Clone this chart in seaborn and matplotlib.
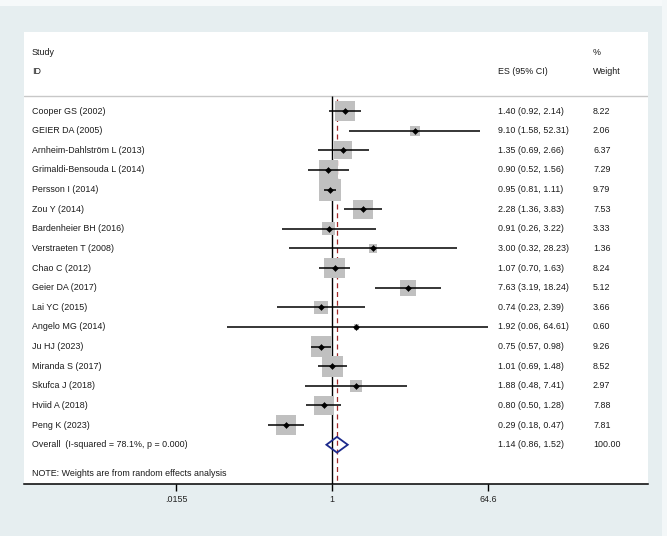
import numpy as np
import matplotlib
matplotlib.use("Agg")
import matplotlib.pyplot as plt
import matplotlib.transforms as mtransforms
from matplotlib.patches import Rectangle
import seaborn as sns

# study data
studies = ["Cooper GS (2002)", "GEIER DA (2005)", "Arnheim-Dahlström L (2013)",
           "Grimaldi-Bensouda L (2014)", "Persson I (2014)", "Zou Y (2014)",
           "Bardenheier BH (2016)", "Verstraeten T (2008)", "Chao C (2012)",
           "Geier DA (2017)", "Lai YC (2015)", "Angelo MG (2014)", "Ju HJ (2023)",
           "Miranda S (2017)", "Skufca J (2018)", "Hviid A (2018)", "Peng K (2023)"]
es = [1.40, 9.10, 1.35, 0.90, 0.95, 2.28, 0.91, 3.00, 1.07, 7.63, 0.74, 1.92, 0.75, 1.01, 1.88, 0.80, 0.29]
lo = [0.92, 1.58, 0.69, 0.52, 0.81, 1.36, 0.26, 0.32, 0.70, 3.19, 0.23, 0.06, 0.57, 0.69, 0.48, 0.50, 0.18]
hi = [2.14, 52.31, 2.66, 1.56, 1.11, 3.83, 3.22, 28.23, 1.63, 18.24, 2.39, 64.61, 0.98, 1.48, 7.41, 1.28, 0.47]
weight = [8.22, 2.06, 6.37, 7.29, 9.79, 7.53, 3.33, 1.36, 8.24, 5.12, 3.66, 0.60, 9.26, 8.52, 2.97, 7.88, 7.81]

overall_es, overall_lo, overall_hi = 1.14, 0.86, 1.52
i_squared, p_het = 78.1, 0.000
tick_vals = [0.0155, 1, 64.6]
tick_labels = [".0155", "1", "64.6"]

sns.set_theme(style="white")
plt.rcParams["font.family"] = ["Liberation Sans", "DejaVu Sans"]
fs = 6.4
txt = "#1a1a1a"

fig = plt.figure(figsize=(6.67, 5.36), dpi=100, facecolor="#e6eef0")
# thin light border strips at top and right of the image
fig.patches.append(Rectangle((0, 1 - 6 / 536), 1, 6 / 536, transform=fig.transFigure,
                             facecolor="#f6f9fa", edgecolor="none", zorder=0))
fig.patches.append(Rectangle((662 / 667, 0), 5 / 667, 1, transform=fig.transFigure,
                             facecolor="#f3f7f8", edgecolor="none", zorder=0))

ax = fig.add_axes([24 / 667, 52 / 536, 624 / 667, 452 / 536])
ax.set_facecolor("white")

n = len(studies)
rows = np.arange(n)
row_overall = n

ax.set_xscale("log")
ax.set_xlim(np.exp(-8.23), np.exp(8.44))
ax.set_ylim(19.0, -4.03)

# reference lines
ax.vlines(1, -0.76, 19.0, color="black", lw=1.0, zorder=2)
ax.vlines(overall_es, -0.62, 19.0, color="#a02828", lw=0.9, linestyles=(0, (4, 3)), zorder=2)

# weight boxes
sns.scatterplot(x=es, y=rows, marker="s", s=np.array(weight) * 26.0,
                color="#c0c0c0", linewidth=0, ax=ax, legend=False, zorder=3)
# confidence intervals
ax.hlines(rows, lo, hi, color="black", lw=1.1, zorder=4)
sns.scatterplot(x=es, y=rows, marker="D", s=9, color="black", linewidth=0.4,
                edgecolor="black", ax=ax, legend=False, zorder=5)

# overall diamond
ax.fill([overall_lo, overall_es, overall_hi, overall_es],
        [row_overall, row_overall - 0.4, row_overall, row_overall + 0.4],
        facecolor="none", edgecolor="#1c2a8c", lw=1.3, zorder=5)

# header separator
ax.axhline(-0.76, color="#c8c8c8", lw=1.0, zorder=1)

tr = mtransforms.blended_transform_factory(ax.transAxes, ax.transData)
x_lab, x_es, x_w = 8 / 624, 474 / 624, 569 / 624

ax.text(x_lab, -3.0, "Study", transform=tr, fontsize=fs, va="center", color=txt)
ax.text(x_lab, -2.0, "ID", transform=tr, fontsize=fs, va="center", color=txt)
ax.text(x_es, -2.0, "ES (95% CI)", transform=tr, fontsize=fs, va="center", color=txt)
ax.text(x_w, -3.0, "%", transform=tr, fontsize=fs, va="center", color=txt)
ax.text(x_w, -2.0, "Weight", transform=tr, fontsize=fs, va="center", color=txt)

for i in range(n):
    ax.text(x_lab, i, studies[i], transform=tr, fontsize=fs, va="center", color=txt)
    ax.text(x_es, i, f"{es[i]:.2f} ({lo[i]:.2f}, {hi[i]:.2f})", transform=tr,
            fontsize=fs, va="center", color=txt)
    ax.text(x_w, i, f"{weight[i]:.2f}", transform=tr, fontsize=fs, va="center", color=txt)

ax.text(x_lab, row_overall, f"Overall  (I-squared = {i_squared:.1f}%, p = {p_het:.3f})",
        transform=tr, fontsize=fs, va="center", color=txt)
ax.text(x_es, row_overall, f"{overall_es:.2f} ({overall_lo:.2f}, {overall_hi:.2f})",
        transform=tr, fontsize=fs, va="center", color=txt)
ax.text(x_w, row_overall, "100.00", transform=tr, fontsize=fs, va="center", color=txt)
ax.text(x_lab, 18.45, "NOTE: Weights are from random effects analysis", transform=tr,
        fontsize=fs, va="center", color=txt)

# axes styling
for side in ["left", "right", "top"]:
    ax.spines[side].set_visible(False)
ax.spines["bottom"].set_color("black")
ax.spines["bottom"].set_linewidth(1.1)
ax.set_yticks([])
ax.set_xticks(tick_vals)
ax.set_xticklabels(tick_labels)
ax.xaxis.set_minor_locator(matplotlib.ticker.NullLocator())
ax.tick_params(axis="x", direction="out", length=5, width=1.0, color="black",
               pad=3, labelsize=fs, labelcolor="#222222", bottom=True)

fig.savefig("out.png", dpi=100, facecolor=fig.get_facecolor())
